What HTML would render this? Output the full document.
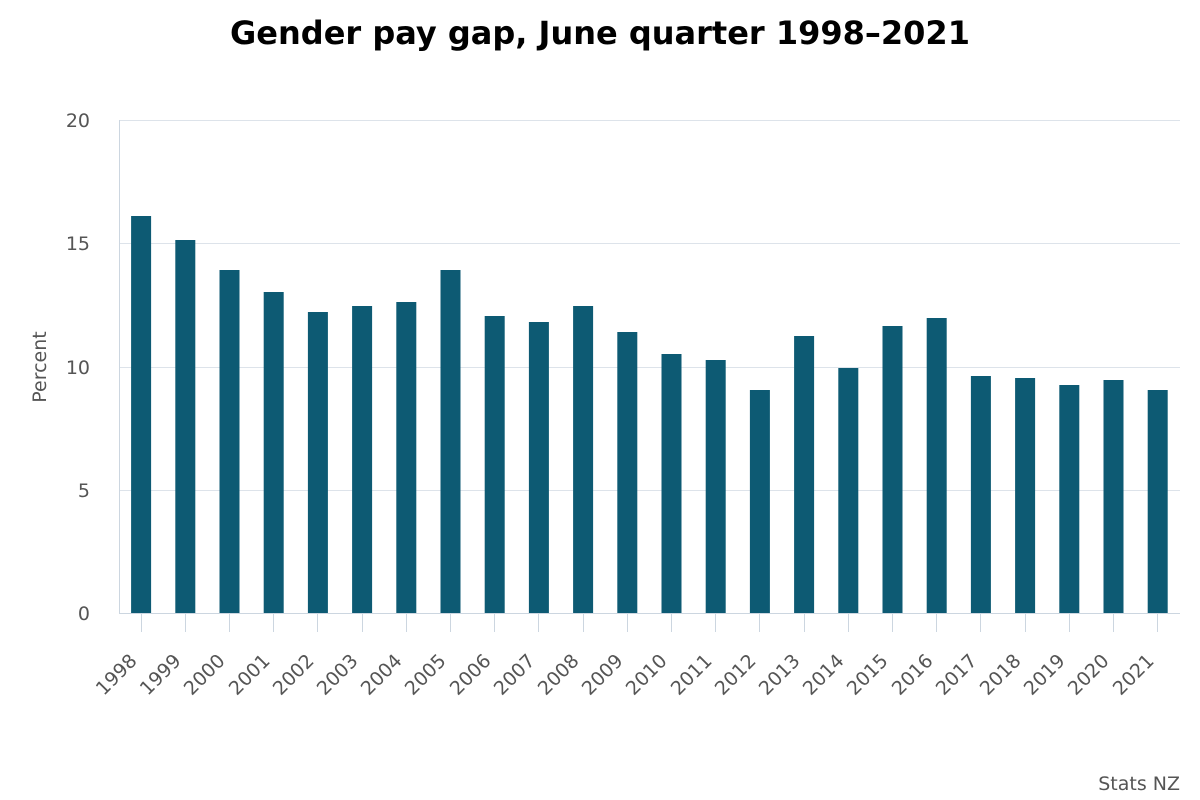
<!DOCTYPE html>
<html><head><meta charset="utf-8"><style>
body{margin:0;background:#fff}
svg{display:block;font-family:"DejaVu Sans","Liberation Sans",sans-serif}
</style></head><body>
<svg width="1200" height="800" xmlns="http://www.w3.org/2000/svg">
<rect width="1200" height="800" fill="#fff"/>
<text x="600" y="44" text-anchor="middle" font-size="32" font-weight="bold" fill="#000">Gender pay gap, June quarter 1998–2021</text>
<g stroke="#dde3ea" stroke-width="1">
<line x1="119" y1="120.5" x2="1180" y2="120.5"/>
<line x1="119" y1="243.5" x2="1180" y2="243.5"/>
<line x1="119" y1="367.5" x2="1180" y2="367.5"/>
<line x1="119" y1="490.5" x2="1180" y2="490.5"/>
</g>
<line x1="119.5" y1="120" x2="119.5" y2="613" stroke="#ccd6e0"/>
<g font-size="19" fill="#555" text-anchor="end">
<text x="90" y="127">20</text><text x="90" y="250">15</text><text x="90" y="374">10</text><text x="90" y="497">5</text><text x="90" y="620">0</text>
</g>
<text transform="translate(46,367) rotate(-90)" text-anchor="middle" font-size="19" fill="#555">Percent</text>
<g fill="#0d5a73">
<rect x="131.1" y="216" width="20" height="397"/>
<rect x="175.3" y="240" width="20" height="373"/>
<rect x="219.5" y="270" width="20" height="343"/>
<rect x="263.7" y="292" width="20" height="321"/>
<rect x="307.9" y="312" width="20" height="301"/>
<rect x="352.1" y="306" width="20" height="307"/>
<rect x="396.3" y="302" width="20" height="311"/>
<rect x="440.5" y="270" width="20" height="343"/>
<rect x="484.7" y="316" width="20" height="297"/>
<rect x="528.9" y="322" width="20" height="291"/>
<rect x="573.1" y="306" width="20" height="307"/>
<rect x="617.3" y="332" width="20" height="281"/>
<rect x="661.5" y="354" width="20" height="259"/>
<rect x="705.7" y="360" width="20" height="253"/>
<rect x="749.9" y="390" width="20" height="223"/>
<rect x="794.1" y="336" width="20" height="277"/>
<rect x="838.3" y="368" width="20" height="245"/>
<rect x="882.5" y="326" width="20" height="287"/>
<rect x="926.7" y="318" width="20" height="295"/>
<rect x="970.9" y="376" width="20" height="237"/>
<rect x="1015.1" y="378" width="20" height="235"/>
<rect x="1059.3" y="385" width="20" height="228"/>
<rect x="1103.5" y="380" width="20" height="233"/>
<rect x="1147.7" y="390" width="20" height="223"/>
</g>
<line x1="119" y1="613.5" x2="1180" y2="613.5" stroke="#ccd6e0"/>
<g stroke="#ccd6e0">
<line x1="141.5" y1="613" x2="141.5" y2="632"/><line x1="185.5" y1="613" x2="185.5" y2="632"/>
<line x1="229.5" y1="613" x2="229.5" y2="632"/><line x1="273.5" y1="613" x2="273.5" y2="632"/>
<line x1="317.5" y1="613" x2="317.5" y2="632"/><line x1="362.5" y1="613" x2="362.5" y2="632"/>
<line x1="406.5" y1="613" x2="406.5" y2="632"/><line x1="450.5" y1="613" x2="450.5" y2="632"/>
<line x1="494.5" y1="613" x2="494.5" y2="632"/><line x1="538.5" y1="613" x2="538.5" y2="632"/>
<line x1="583.5" y1="613" x2="583.5" y2="632"/><line x1="627.5" y1="613" x2="627.5" y2="632"/>
<line x1="671.5" y1="613" x2="671.5" y2="632"/><line x1="715.5" y1="613" x2="715.5" y2="632"/>
<line x1="759.5" y1="613" x2="759.5" y2="632"/><line x1="804.5" y1="613" x2="804.5" y2="632"/>
<line x1="848.5" y1="613" x2="848.5" y2="632"/><line x1="892.5" y1="613" x2="892.5" y2="632"/>
<line x1="936.5" y1="613" x2="936.5" y2="632"/><line x1="980.5" y1="613" x2="980.5" y2="632"/>
<line x1="1025.5" y1="613" x2="1025.5" y2="632"/><line x1="1069.5" y1="613" x2="1069.5" y2="632"/>
<line x1="1113.5" y1="613" x2="1113.5" y2="632"/><line x1="1157.5" y1="613" x2="1157.5" y2="632"/>
</g>
<g font-size="19" fill="#555" text-anchor="end">
<text transform="translate(138,662) rotate(-45)">1998</text>
<text transform="translate(182,662) rotate(-45)">1999</text>
<text transform="translate(226,662) rotate(-45)">2000</text>
<text transform="translate(271,662) rotate(-45)">2001</text>
<text transform="translate(315,662) rotate(-45)">2002</text>
<text transform="translate(359,662) rotate(-45)">2003</text>
<text transform="translate(403,662) rotate(-45)">2004</text>
<text transform="translate(447,662) rotate(-45)">2005</text>
<text transform="translate(492,662) rotate(-45)">2006</text>
<text transform="translate(536,662) rotate(-45)">2007</text>
<text transform="translate(580,662) rotate(-45)">2008</text>
<text transform="translate(624,662) rotate(-45)">2009</text>
<text transform="translate(668,662) rotate(-45)">2010</text>
<text transform="translate(713,662) rotate(-45)">2011</text>
<text transform="translate(757,662) rotate(-45)">2012</text>
<text transform="translate(801,662) rotate(-45)">2013</text>
<text transform="translate(845,662) rotate(-45)">2014</text>
<text transform="translate(889,662) rotate(-45)">2015</text>
<text transform="translate(934,662) rotate(-45)">2016</text>
<text transform="translate(978,662) rotate(-45)">2017</text>
<text transform="translate(1022,662) rotate(-45)">2018</text>
<text transform="translate(1066,662) rotate(-45)">2019</text>
<text transform="translate(1110,662) rotate(-45)">2020</text>
<text transform="translate(1155,662) rotate(-45)">2021</text>
</g>
<text x="1180" y="790" text-anchor="end" font-size="19" fill="#555">Stats NZ</text>
</svg>
</body></html>
